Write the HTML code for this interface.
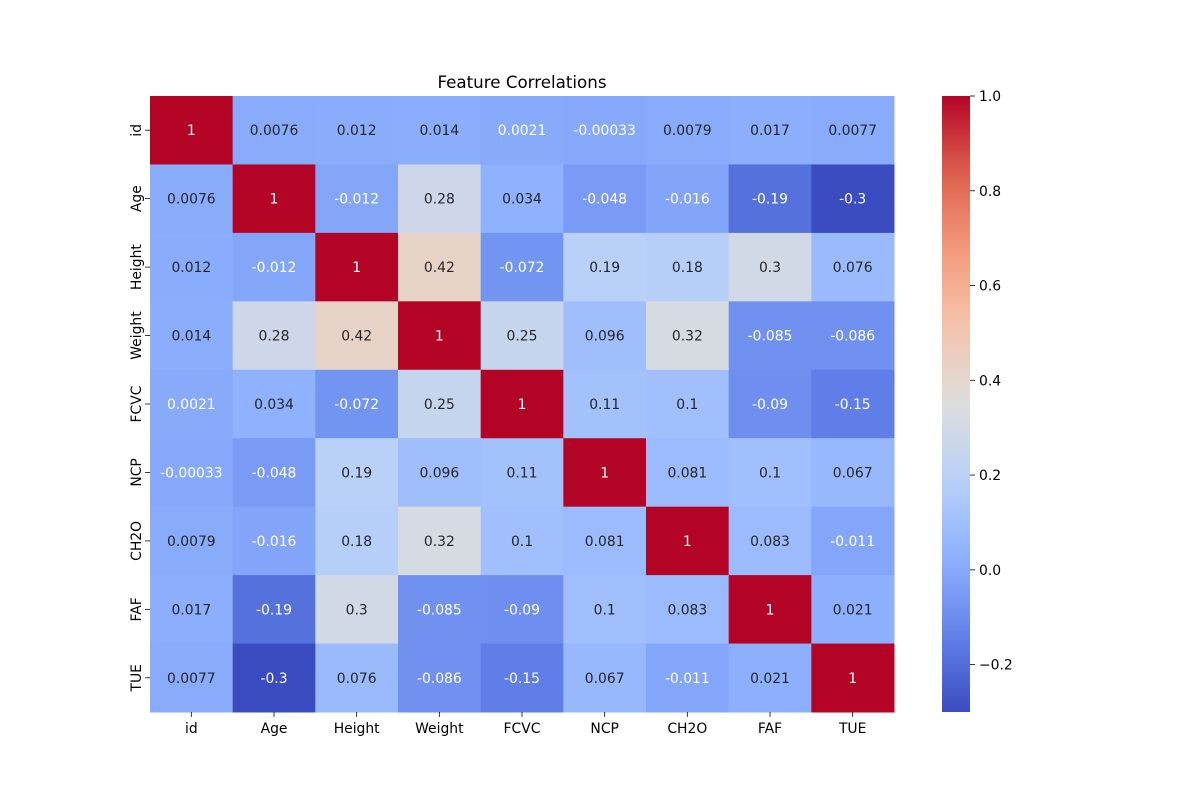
<!DOCTYPE html>
<html><head><meta charset="utf-8"><style>
body{margin:0;background:#fff}
svg text{font-family:"DejaVu Sans","Liberation Sans",sans-serif}
</style></head><body>
<svg id="chart" width="1200" height="800" xmlns="http://www.w3.org/2000/svg">
<text x="522" y="88" font-size="16.7" text-anchor="middle">Feature Correlations</text>
<g id="cells"></g>
<g id="axes"></g>
<defs><linearGradient id="cg" x1="0" y1="1" x2="0" y2="0"></linearGradient></defs>
<rect x="942" y="96" width="28" height="616" fill="url(#cg)"/>
<g id="cbar"></g>
</svg>
<script>
const labels = ["id","Age","Height","Weight","FCVC","NCP","CH2O","FAF","TUE"];
const row0 = [1,0.0076,0.012,0.014,0.0021,-0.00033,0.0079,0.017,0.0077];
const row1 = [0.0076,1,-0.012,0.28,0.034,-0.048,-0.016,-0.19,-0.3];
const row2 = [0.012,-0.012,1,0.42,-0.072,0.19,0.18,0.3,0.076];
const row3 = [0.014,0.28,0.42,1,0.25,0.096,0.32,-0.085,-0.086];
const row4 = [0.0021,0.034,-0.072,0.25,1,0.11,0.1,-0.09,-0.15];
const row5 = [-0.00033,-0.048,0.19,0.096,0.11,1,0.081,0.1,0.067];
const row6 = [0.0079,-0.016,0.18,0.32,0.1,0.081,1,0.083,-0.011];
const row7 = [0.017,-0.19,0.3,-0.085,-0.09,0.1,0.083,1,0.021];
const row8 = [0.0077,-0.3,0.076,-0.086,-0.15,0.067,-0.011,0.021,1];
const rows = [row0,row1,row2,row3,row4,row5,row6,row7,row8];
const cbarTicks = [-0.2,0,0.2,0.4,0.6,0.8,1.0];
const vmin=-0.3, vmax=1;
const X0=150,X1=894,Y0=96,Y1=712;
const NS="http://www.w3.org/2000/svg";
const cmap=[[59,76,192],[98,130,234],[141,176,254],[184,208,249],[221,221,221],[245,196,173],[244,154,123],[222,96,77],[180,4,38]];
function color(v){let t=Math.max(0,Math.min(1,(v-vmin)/(vmax-vmin)))*8;let i=Math.min(7,Math.floor(t));let f=t-i;const a=cmap[i],b=cmap[i+1];return a.map((c,k)=>Math.round(c+(b[k]-c)*f));}
function lum(c){const l=c.map(x=>{x/=255;return x<=0.03928?x/12.92:Math.pow((x+0.055)/1.055,2.4)});return .2126*l[0]+.7152*l[1]+.0722*l[2];}
const THR=lum(color(0.005));
const n=labels.length,cw=(X1-X0)/n,ch=(Y1-Y0)/n;
function mk(tag,attrs,parent){const e=document.createElementNS(NS,tag);for(const k in attrs)e.setAttribute(k,attrs[k]);parent.appendChild(e);return e;}
const cells=document.getElementById('cells'),axes=document.getElementById('axes'),cbar=document.getElementById('cbar');
rows.forEach((r,i)=>r.forEach((v,j)=>{
 const c=color(v);
 const rc=mk('rect',{x:X0+j*cw,y:Y0+i*ch,width:cw+0.5,height:ch+0.5,fill:`rgb(${c})`},cells);
 
 
 const t=mk('text',{x:X0+(j+.5)*cw,y:Y0+(i+.5)*ch+5,'font-size':13.9,'text-anchor':'middle',fill:lum(c)>THR?'#262626':'#ffffff'},cells);
 t.textContent=String(v);
 
 
}));
labels.forEach((l,i)=>{
 const x=X0+(i+.5)*cw;
 mk('line',{x1:x,x2:x,y1:Y1,y2:Y1+4.9,stroke:'#000','stroke-width':0.8},axes);
 const t=mk('text',{x:x,y:Y1+21,'font-size':13.9,'text-anchor':'middle'},axes);
 t.textContent=l;
 
 
 const y=Y0+(i+.5)*ch;
 mk('line',{x1:X0-4.9,x2:X0,y1:y,y2:y,stroke:'#000','stroke-width':0.8},axes);
 const t2=mk('text',{x:0,y:0,'font-size':13.9,'text-anchor':'middle',transform:`translate(${X0-9},${y}) rotate(-90)`},axes);
 t2.textContent=l;
 
 
});
const g=document.getElementById('cg');
for(let k=0;k<=20;k++){const v=vmin+(vmax-vmin)*k/20;mk('stop',{offset:k/20,'stop-color':`rgb(${color(v)})`},g);}
cbarTicks.forEach(v=>{
 const y=Y1-(v-vmin)/(vmax-vmin)*(Y1-Y0);
 mk('line',{x1:970,x2:975,y1:y,y2:y,stroke:'#000','stroke-width':0.8},cbar);
 const t=mk('text',{x:979,y:y+5,'font-size':13.9},cbar);
 t.textContent=v<0?'\u2212'+(-v).toFixed(1):v.toFixed(1);
 
 
});
</script>
</body></html>
